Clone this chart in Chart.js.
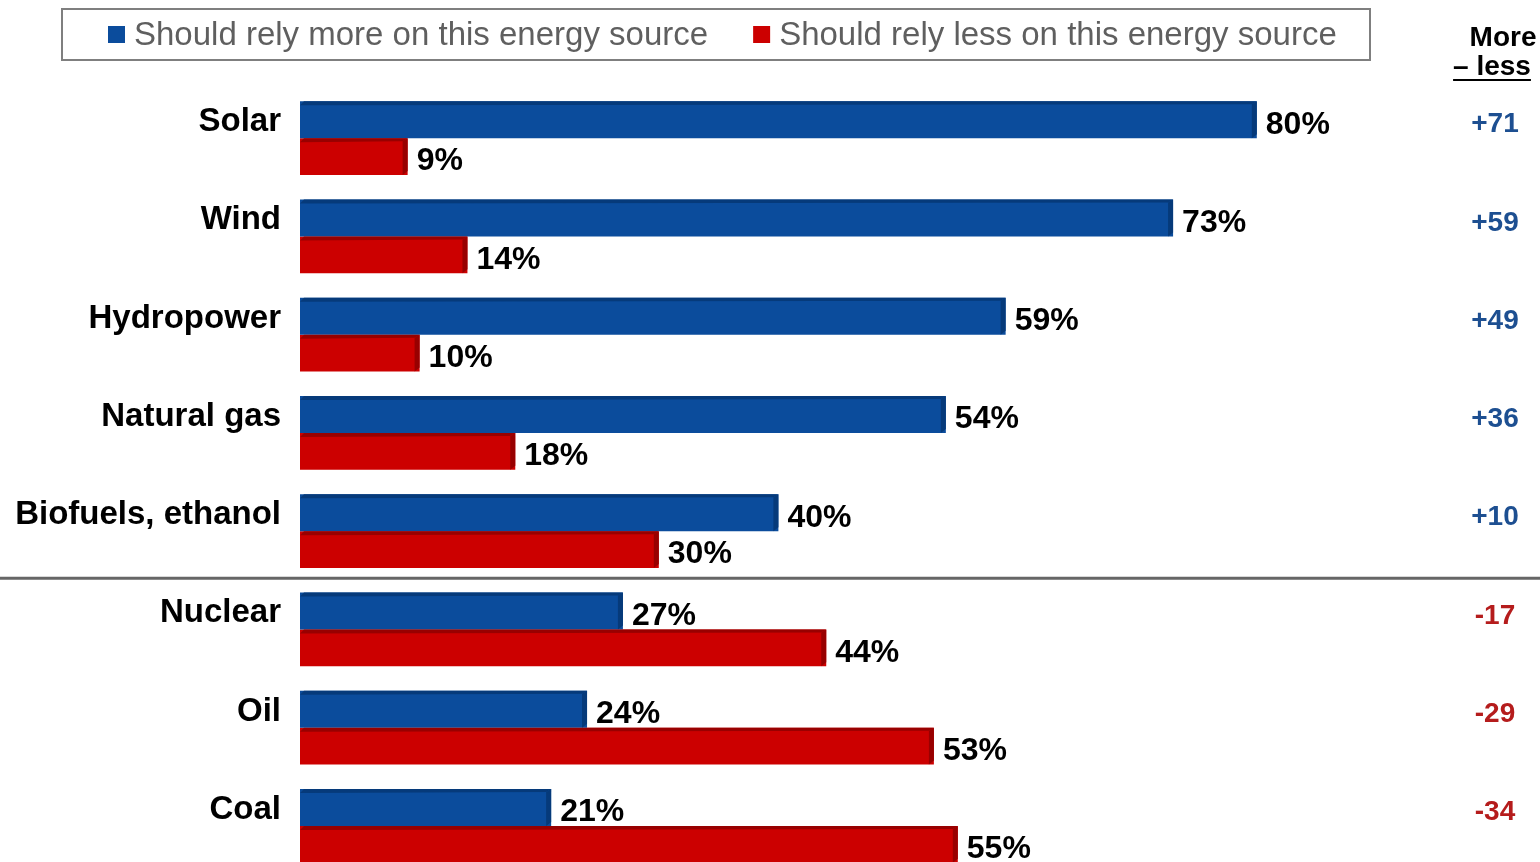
<!DOCTYPE html>
<html>
<head>
<meta charset="utf-8">
<title>Energy sources</title>
<script src="https://cdn.jsdelivr.net/npm/chart.js@4.4.1/dist/chart.umd.min.js"></script>
<style>
  html, body { margin: 0; padding: 0; background: #fff; overflow: hidden; }
  canvas { display: block; }
</style>
</head>
<body>
<canvas id="myChart" width="1540" height="880"></canvas>
<script>
// data
const categories = ['Solar', 'Wind', 'Hydropower', 'Natural gas', 'Biofuels, ethanol', 'Nuclear', 'Oil', 'Coal'];
const moreValues = [80, 73, 59, 54, 40, 27, 24, 21];
const lessValues = [9, 14, 10, 18, 30, 44, 53, 55];
const netValues = ['+71', '+59', '+49', '+36', '+10', '-17', '-29', '-34'];
const seriesNames = ['Should rely more on this energy source', 'Should rely less on this energy source'];
const netHeader = ['More', '\u2013 less'];

const FONT = "'Liberation Sans', Arial, sans-serif";
const BLUE = '#0b4c9c';
const BLUE_DARK = '#063a7a';
const RED = '#cc0000';
const RED_DARK = '#980000';

// boxed legend at the top
const boxLegend = {
    id: 'boxLegend',
    afterDraw(chart) {
        const ctx = chart.ctx;
        ctx.save();
        ctx.strokeStyle = '#7f7f7f';
        ctx.lineWidth = 2;
        ctx.strokeRect(62, 9, 1308, 51);
        ctx.font = '33px ' + FONT;
        ctx.textBaseline = 'middle';
        ctx.textAlign = 'left';
        let x = 108;
        chart.data.datasets.forEach(function(ds) {
            ctx.fillStyle = ds.backgroundColor;
            ctx.fillRect(x, 26, 17, 17);
            ctx.fillStyle = '#5f5f5f';
            ctx.fillText(ds.label, x + 26, 36);
            x += 26 + ctx.measureText(ds.label).width + 45;
        });
        ctx.restore();
    }
};

// fake 3d edges on the bars + value labels
const barDecor = {
    id: 'barDecor',
    afterDatasetsDraw(chart) {
        const ctx = chart.ctx;
        ctx.save();
        chart.data.datasets.forEach(function(ds, i) {
            const meta = chart.getDatasetMeta(i);
            const edge = i === 0 ? BLUE_DARK : RED_DARK;
            meta.data.forEach(function(bar) {
                const top = bar.y - bar.height / 2;
                const bottom = bar.y + bar.height / 2;
                ctx.fillStyle = edge;
                // top face
                ctx.beginPath();
                ctx.moveTo(bar.base, top + 4);
                ctx.lineTo(bar.base + 4, top);
                ctx.lineTo(bar.x, top);
                ctx.lineTo(bar.x - 5, top + 3);
                ctx.lineTo(bar.base, top + 4);
                ctx.closePath();
                ctx.fill();
                // right face
                ctx.beginPath();
                ctx.moveTo(bar.x - 5, top + 3);
                ctx.lineTo(bar.x, top);
                ctx.lineTo(bar.x, bottom - 4);
                ctx.lineTo(bar.x - 5, bottom);
                ctx.closePath();
                ctx.fill();
            });
        });
        ctx.font = 'bold 32px ' + FONT;
        ctx.fillStyle = '#000';
        ctx.textAlign = 'left';
        ctx.textBaseline = 'middle';
        chart.data.datasets.forEach(function(ds, i) {
            chart.getDatasetMeta(i).data.forEach(function(bar, j) {
                ctx.fillText(ds.data[j] + '%', bar.x + 9, bar.y + 5);
            });
        });
        ctx.restore();
    }
};

// separator line and the "More - less" column
const sideColumn = {
    id: 'sideColumn',
    afterDraw(chart) {
        const ctx = chart.ctx;
        const y = chart.scales.y;
        ctx.save();
        const lineY = (y.getPixelForValue(4) + y.getPixelForValue(5)) / 2 - 2;
        ctx.strokeStyle = '#666';
        ctx.lineWidth = 3;
        ctx.beginPath();
        ctx.moveTo(0, lineY);
        ctx.lineTo(chart.width, lineY);
        ctx.stroke();

        ctx.fillStyle = '#000';
        ctx.font = 'bold 28px ' + FONT;
        ctx.textAlign = 'center';
        ctx.textBaseline = 'middle';
        ctx.fillText(netHeader[0], 1503, 38);
        ctx.fillText(netHeader[1], 1492, 67);
        const w = ctx.measureText(netHeader[1]).width;
        ctx.lineWidth = 2;
        ctx.strokeStyle = '#000';
        ctx.beginPath();
        ctx.moveTo(1492 - w / 2, 80);
        ctx.lineTo(1492 + w / 2, 80);
        ctx.stroke();

        const blueBars = chart.getDatasetMeta(0).data;
        netValues.forEach(function(v, j) {
            ctx.fillStyle = v.charAt(0) === '-' ? '#b51c1c' : '#1d4f91';
            ctx.fillText(v, 1495, blueBars[j].y + 5);
        });
        ctx.restore();
    }
};

const chart = new Chart(document.getElementById('myChart').getContext('2d'), {
    type: 'bar',
    data: {
        labels: categories,
        datasets: [{
            label: seriesNames[0],
            data: moreValues,
            backgroundColor: BLUE,
            borderWidth: 0
        }, {
            label: seriesNames[1],
            data: lessValues,
            backgroundColor: RED,
            borderWidth: 0
        }]
    },
    options: {
        indexAxis: 'y',
        responsive: false,
        animation: false,
        layout: {
            padding: { top: 89, bottom: 5, left: 0, right: 44 }
        },
        datasets: {
            bar: { categoryPercentage: 0.75, barPercentage: 1 }
        },
        plugins: {
            legend: { display: false },
            tooltip: { enabled: false }
        },
        scales: {
            x: {
                display: false,
                min: 0,
                max: 100
            },
            y: {
                grid: { display: false, drawTicks: false },
                border: { display: false },
                ticks: {
                    color: '#000',
                    font: { family: FONT, size: 33, weight: 'bold' },
                    padding: 19,
                    labelOffset: -16
                },
                afterFit: function(scale) {
                    scale.width = 300;
                    // don't let the label padding eat the bottom of the plot
                    scale.paddingTop = 0;
                    scale.paddingBottom = 0;
                }
            }
        }
    },
    plugins: [boxLegend, barDecor, sideColumn]
});
</script>
</body>
</html>
